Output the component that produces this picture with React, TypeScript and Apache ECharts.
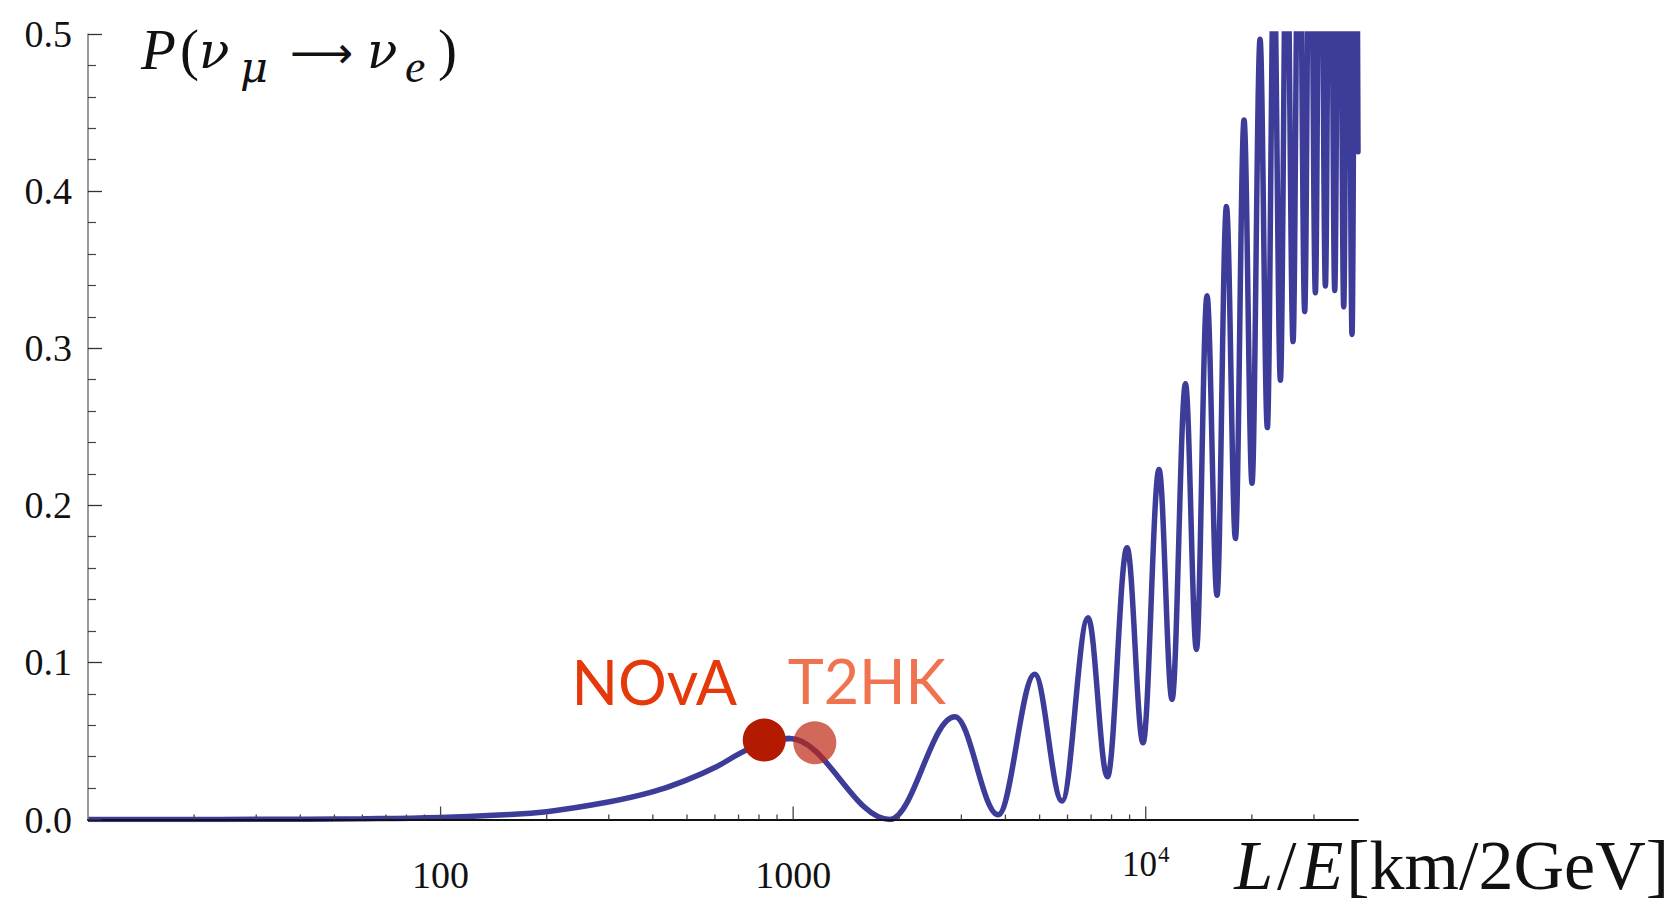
import React, { useEffect, useRef } from 'react';
import * as echarts from 'echarts';

const SERIF = '"Liberation Serif", "Times New Roman", "DejaVu Serif", serif';
const GREEK = '"DejaVu Serif", "Liberation Serif", serif';
const SANS = 'Lato, "Open Sans", "Noto Sans", sans-serif';

// Smooth rise up to the first maximum: L/E [km/2GeV] and P(nu_mu -> nu_e)
const riseLE = [10, 30, 60, 100, 147, 200, 302, 401, 498, 606, 706, 800, 890, 978];
const riseP = [0, 0.0001, 0.0005, 0.0013, 0.0029, 0.005, 0.0113, 0.0177, 0.0251, 0.0336, 0.0421, 0.0478, 0.0508, 0.0516];

// Oscillations: successive maxima and minima (maxima beyond 0.5 are clipped)
const oscLE = [890, 978, 1880, 2875, 3815, 4844, 5789, 6861, 7786, 8851, 9825, 10906, 11874, 12964, 13926, 14921, 15929, 16940, 17966, 19002, 20020, 21100, 22130, 23100, 24100, 25110, 26170, 27200, 28240, 29250, 30280, 31290, 32330, 33340, 34360, 35390, 36440, 37450, 38470, 39410, 40000];
const oscP = [0.0508, 0.0516, 0, 0.0654, 0.003, 0.0925, 0.0118, 0.1285, 0.0272, 0.173, 0.0488, 0.2228, 0.0764, 0.2773, 0.1082, 0.3334, 0.1427, 0.3902, 0.1788, 0.4453, 0.2141, 0.4966, 0.2495, 0.55, 0.2796, 0.6, 0.3042, 0.64, 0.3233, 0.67, 0.3353, 0.69, 0.3396, 0.7, 0.3368, 0.7, 0.3263, 0.7, 0.3088, 0.69, 0.425];

// Experiments
const experiments = ['NOvA', 'T2HK'];
const experimentLE = [828, 1152];
const experimentP = [0.0506, 0.0489];

// Axis ticks
const xMajorTicks = [100, 1000, 10000];
const xMinorTicks = [20, 30, 40, 50, 60, 70, 80, 90, 200, 300, 400, 500, 600, 700, 800, 900, 2000, 3000, 4000, 5000, 6000, 7000, 8000, 9000, 20000, 30000];
const xTickLabels: Record<string, string> = { '2': '{n|100}', '3': '{n|1000}', '4': '{p|10}{s|4}' };

const LINE_COLOR = '#3D3D99';

const dotStyles = [
  { color: '#B41A00', labelColor: '#E6390B', offset: [-110, -59] },
  { color: 'rgba(190,40,20,0.7)', labelColor: '#F07350', offset: [52, -62] },
];

function buildOption() {
  const serifText = (text: string, x: number, baseline: number, fs: number, italic: boolean, family = SERIF, k = 0.3375) => ({
    type: 'text',
    x,
    y: baseline - k * fs,
    z: 20,
    style: {
      text,
      fontFamily: family,
      fontSize: fs,
      fontStyle: italic ? 'italic' : 'normal',
      fill: '#111',
      align: 'left',
      verticalAlign: 'middle',
    },
  });

  const tickSeries = (values: number[], len: number, name: string) => ({
    type: 'custom',
    name,
    coordinateSystem: 'cartesian2d',
    silent: true,
    z: 11,
    data: values.map((v) => [v, 0]),
    renderItem: (_params: any, api: any) => {
      const p = api.coord([api.value(0), 0]);
      return {
        type: 'line',
        shape: { x1: p[0], y1: p[1], x2: p[0], y2: p[1] - len },
        style: { stroke: '#444', lineWidth: 1.3 },
      };
    },
  });

  return {
    animation: false,
    backgroundColor: '#ffffff',
    grid: { left: 88, right: 320, top: 34, bottom: 86.5, containLabel: false },
    xAxis: {
      type: 'log',
      logBase: 10,
      min: 10,
      max: 40000,
      z: 10,
      axisLine: { show: true, lineStyle: { color: '#111', width: 2 } },
      axisTick: { show: false },
      splitLine: { show: false },
      minorTick: { show: false },
      axisLabel: {
        margin: 55,
        verticalAlign: 'middle',
        formatter: (v: number) => xTickLabels[String(Math.round(Math.log10(v)))] || '',
        rich: {
          n: { fontFamily: SERIF, fontSize: 38, color: '#111' },
          p: { fontFamily: SERIF, fontSize: 35, color: '#111', padding: [0, 0, 20, 0] },
          s: { fontFamily: SERIF, fontSize: 23, color: '#111', padding: [0, 0, 40, 1] },
        },
      },
    },
    yAxis: {
      type: 'value',
      min: 0,
      max: 0.5,
      interval: 0.1,
      z: 10,
      axisLine: { show: true, lineStyle: { color: '#7a7a7a', width: 1.5 } },
      axisTick: { show: true, inside: true, length: 14, lineStyle: { color: '#333', width: 1.3 } },
      minorTick: { show: true, splitNumber: 5, length: 8, lineStyle: { color: '#444', width: 1.2 } },
      splitLine: { show: false },
      axisLabel: {
        margin: 16,
        formatter: (v: number) => v.toFixed(1),
        fontFamily: SERIF,
        fontSize: 38,
        color: '#111',
        padding: [0, 0, 7, 0],
      },
    },
    series: [
      {
        type: 'line',
        name: 'rise',
        data: riseLE.map((x, i) => [x, riseP[i]]),
        showSymbol: false,
        symbol: 'none',
        smooth: 0.45,
        lineStyle: { color: LINE_COLOR, width: 5.5 },
        z: 2,
      },
      {
        type: 'line',
        name: 'oscillations',
        data: oscLE.map((x, i) => [x, oscP[i]]),
        showSymbol: false,
        symbol: 'none',
        smooth: 0.36,
        smoothMonotone: 'x',
        lineStyle: { color: LINE_COLOR, width: 5.5, join: 'round', cap: 'round' },
        z: 2,
      },
      tickSeries(xMajorTicks, 13, 'major ticks'),
      tickSeries(xMinorTicks, 5, 'minor ticks'),
      {
        type: 'scatter',
        name: 'experiments',
        symbolSize: 43,
        z: 5,
        data: experiments.map((n, i) => ({
          name: n,
          value: [experimentLE[i], experimentP[i]],
          itemStyle: { color: dotStyles[i].color, opacity: 1 },
          label: {
            show: true,
            position: 'inside',
            offset: dotStyles[i].offset,
            formatter: '{b}',
            color: dotStyles[i].labelColor,
            fontFamily: SANS,
            fontSize: 61,
          },
        })),
      },
    ],
    graphic: [
      serifText('P', 141, 69, 57, true),
      serifText('(', 180, 69, 57, false),
      serifText('ν', 199, 69, 50, true, GREEK, 0.36),
      serifText('μ', 240, 82, 43, true, GREEK, 0.36),
      serifText('⟶', 290, 69, 44, false, '"DejaVu Sans", sans-serif', 0.38),
      serifText('ν', 367, 69, 50, true, GREEK, 0.36),
      serifText('e', 405, 82, 46, true),
      serifText(')', 438, 69, 57, false),
      {
        type: 'text',
        x: 1669,
        y: 889 - 0.3375 * 70,
        z: 20,
        style: {
          text: '{i|L}{r|/}{i|E}{b|[km/2GeV]}',
          align: 'right',
          verticalAlign: 'middle',
          fill: '#111',
          fontFamily: SERIF,
          fontSize: 70,
          rich: {
            i: { fontFamily: SERIF, fontSize: 70, fontStyle: 'italic', fill: '#111' },
            r: { fontFamily: SERIF, fontSize: 70, fill: '#111', padding: [0, 4, 0, 4] },
            b: { fontFamily: SERIF, fontSize: 70, fill: '#111', padding: [0, 0, 0, 3] },
          },
        },
      },
    ],
  };
}

export default function App() {
  const ref = useRef<HTMLDivElement>(null);
  useEffect(() => {
    document.body.style.margin = '0';
    const chart = echarts.init(ref.current as HTMLDivElement, null, { renderer: 'svg' });
    chart.setOption(buildOption() as any);
    return () => chart.dispose();
  }, []);
  return (
    <div
      ref={ref}
      style={{ position: 'absolute', left: 0, top: 0, width: 1678, height: 906, background: '#fff' }}
    />
  );
}
